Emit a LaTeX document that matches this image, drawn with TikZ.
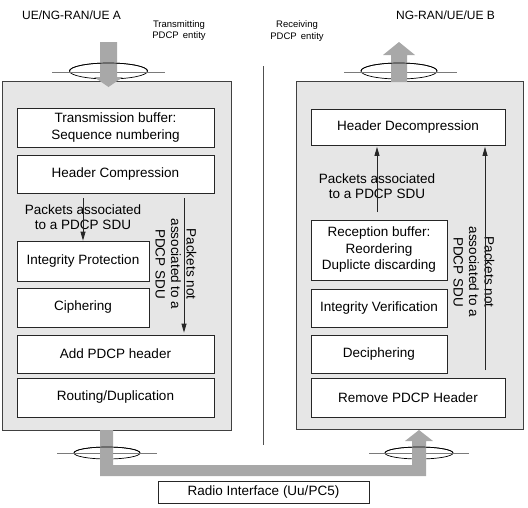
\documentclass[tikz,border=0pt]{standalone}
\usepackage{fontspec}
\setmainfont{Liberation Sans}
\usetikzlibrary{arrows.meta,calc}
\definecolor{outerfill}{HTML}{E6E6E6}
\definecolor{outerdraw}{HTML}{404040}
\definecolor{pipegray}{HTML}{A8A8A8}
\definecolor{ringline}{HTML}{7A7A7A}
\definecolor{midline}{HTML}{505050}
\tikzset{
  outerbox/.style={draw=outerdraw,fill=outerfill,line width=0.9pt,inner sep=0pt},
  ibox/.style={draw=black!85,fill=white,line width=0.8pt,inner sep=0pt,align=center,
    font=\fontsize{13.5}{16.5}\selectfont},
  lbl/.style={inner sep=0pt,align=center,font=\fontsize{13.5}{15.5}\selectfont},
  smalllbl/.style={inner sep=0pt,align=center,font=\fontsize{9.5}{11.5}\selectfont},
  toplbl/.style={inner sep=0pt,font=\fontsize{12}{14}\selectfont},
  tarrow/.style={draw=black!85,line width=0.8pt,-{Triangle[width=5pt,length=9pt]}},
  pipe/.style={fill=pipegray,draw=none},
  ringback/.style={draw=black,line width=0.7pt},
  ringbar/.style={draw=ringline,line width=0.9pt}
}
\begin{document}
\begin{tikzpicture}[x=1pt,y=-1pt]
\useasboundingbox (0,0) rectangle (528,507);
% outer entity boxes
\node[outerbox,minimum width=229pt,minimum height=349pt] (L) at (116.5,255.5) {};
\node[outerbox,minimum width=227pt,minimum height=348pt] (R) at (409.5,255) {};
% centre separator
\coordinate (m1) at (263,66);
\coordinate (m2) at (263,445);
\draw[midline,line width=0.8pt] (m1) -- (m2);
% labels at top
\node[toplbl,anchor=west] (tA) at (22,15) {UE/NG-RAN/UE A};
\node[toplbl,anchor=west] (tB) at (396,15) {NG-RAN/UE/UE B};
\node[smalllbl] (tx) at (179,30.5) {Transmitting\\PDCP\, entity};
\node[smalllbl] (rx) at (297,31) {Receiving\\PDCP\, entity};
% left inner boxes
\node[ibox,minimum width=197pt,minimum height=39pt] (TB) at (115.5,127.5) {Transmission buffer:\\Sequence numbering};
\node[ibox,minimum width=197pt,minimum height=38pt] (HC) at (115.5,174) {Header Compression};
\node[ibox,minimum width=132pt,minimum height=40pt] (IP) at (83,261) {Integrity Protection};
\node[ibox,minimum width=132pt,minimum height=39pt] (CI) at (83,307.5) {Ciphering};
\node[ibox,minimum width=197pt,minimum height=38pt] (APH) at (115.5,354) {Add PDCP header};
\node[ibox,minimum width=197pt,minimum height=39pt] (RD) at (115.5,397.5) {Routing/Duplication};
% right inner boxes
\node[ibox,minimum width=194pt,minimum height=36pt] (HD) at (408,127) {Header Decompression};
\node[ibox,minimum width=136pt,minimum height=60pt] (RB) at (379,250) {Reception buffer:\\Reordering\\Duplicte discarding};
\node[ibox,minimum width=136pt,minimum height=38pt] (IV) at (379,308) {Integrity Verification};
\node[ibox,minimum width=136pt,minimum height=38pt] (DE) at (379,354) {Deciphering};
\node[ibox,minimum width=194pt,minimum height=39pt] (RPH) at (408,397.5) {Remove PDCP Header};
% radio interface
\node[ibox,minimum width=211pt,minimum height=22pt] (RI) at (263.5,492) {Radio Interface (Uu/PC5)};
% text labels
\node[lbl] (la) at (83,217) {Packets associated\\to a PDCP SDU};
\node[lbl] (ra) at (377,186) {Packets associated\\to a PDCP SDU};
\node[lbl,rotate=-90] (ln) at (176,264) {Packets not\\associated to a\\PDCP SDU};
\node[lbl,rotate=-90] (rn) at (474,272) {Packets not\\associated to a\\PDCP SDU};
% thin arrows
\coordinate (a1) at (83,198);
\coordinate (n1) at (184,198);
\coordinate (a2) at (377,212);
\coordinate (n2) at (485,370);
\draw[tarrow] (a1) -- (IP.north);
\draw[tarrow,shorten >=2pt] (n1) -- (n1 |- APH.north);
\draw[tarrow,shorten >=1.5pt] (a2) -- (a2 |- HD.south);
\draw[tarrow,shorten >=1.5pt] (n2) -- (n2 |- HD.south);
% --- top left pipe with ring
\draw[ringback] (108.5,71) ellipse [x radius=39pt,y radius=8pt];
\draw[ringbar] (52,72) -- (165,72);
\fill[pipegray] (100,42) -- (117,42) -- (117,77) -- (123,77) -- (108.5,87) -- (94,77) -- (100,77) -- cycle;
\draw[ringback] (69.5,71) arc[start angle=180,end angle=360,x radius=39pt,y radius=-8pt];
% --- top right pipe with ring
\draw[ringback] (399,71) ellipse [x radius=38pt,y radius=8pt];
\draw[ringbar] (344,72) -- (457,72);
\fill[pipegray] (391,82) -- (391,55) -- (383,55) -- (399,42) -- (415,55) -- (407,55) -- (407,82) -- cycle;
\draw[ringback] (361,71) arc[start angle=180,end angle=360,x radius=38pt,y radius=-8pt];
% --- bottom pipe with rings
\draw[ringback] (107,453) ellipse [x radius=33pt,y radius=6pt];
\draw[ringbar] (57,453) -- (157,453);
\draw[ringback] (419,453) ellipse [x radius=34pt,y radius=6pt];
\draw[ringbar] (369,453) -- (469,453);
\fill[pipegray] (100,430) -- (113,430) -- (113,465) -- (412,465) -- (412,441) -- (405,441) -- (419,430) -- (433,441) -- (426,441) -- (426,476) -- (100,476) -- cycle;
\draw[ringback] (74,453) arc[start angle=180,end angle=360,x radius=33pt,y radius=-6pt];
\draw[ringback] (385,453) arc[start angle=180,end angle=360,x radius=34pt,y radius=-6pt];
\end{tikzpicture}
\end{document}
